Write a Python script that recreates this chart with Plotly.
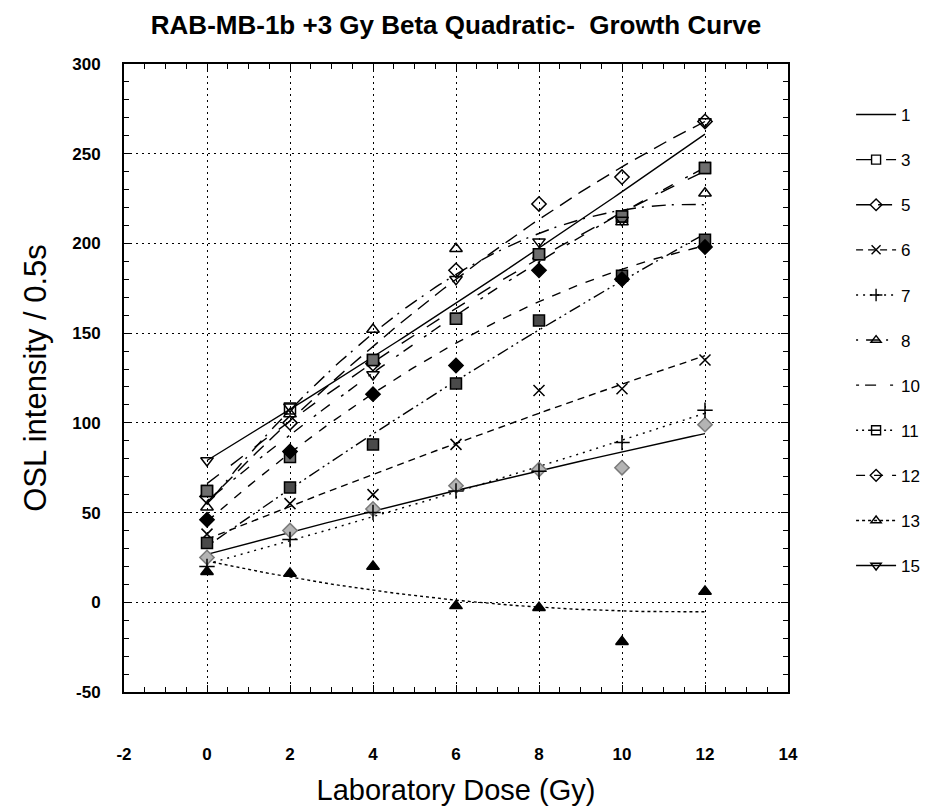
import numpy as np
import plotly.graph_objects as go

# ---------------- data ----------------
dose = [0, 2, 4, 6, 8, 10, 12]
series_names = ["1", "3", "5", "6", "7", "8", "10", "11", "12", "13", "15"]

s1 = [25, 40, 52, 65, 74, 75, 99]
s3 = [62, 108, 135, 158, 194, 215, 242]
s5 = [59, 100, 133, 185, 222, 237, 268]
s6 = [38, 55, 60, 88, 118, 119, 135]
s7 = [20, 35, 50, 62, 73, 89, 107]
s8 = [53, 105, 152, 197, 193, 212, 228]
s10 = [62, 81, 135, 158, 194, 215, 242]
s11 = [33, 64, 88, 122, 157, 182, 202]
s12 = [46, 84, 116, 132, 185, 180, 198]
s13 = [17, 16, 20, -2, -3, -22, 6]
s15 = [79, 109, 127, 180, 201, 213, 268]

values = [s1, s3, s5, s6, s7, s8, s10, s11, s12, s13, s15]

x_ticks = [-2, 0, 2, 4, 6, 8, 10, 12, 14]
y_ticks = [-50, 0, 50, 100, 150, 200, 250, 300]

# ---------------- styles ----------------
FONT = "Liberation Sans, Arial, sans-serif"
# sym: symbol in plot, color: marker colour (line colour for open symbols)
styles = {
    "1":  dict(dash="solid", sym="diamond", color="#b4b4b4", mline="#7a7a7a", leg=None),
    "3":  dict(dash="longdash", sym="square-open", color="black", mline="black", leg="square-open"),
    "5":  dict(dash="14px,8px", sym="diamond-open", color="black", mline="black", leg="diamond-open"),
    "6":  dict(dash="7px,5px", sym="x-thin-open", color="black", mline="black", leg="x-thin-open"),
    "7":  dict(dash="2px,5px", sym="cross-thin-open", color="black", mline="black", leg="cross-thin-open"),
    "8":  dict(dash="2px,8px,14px,6px", sym="triangle-up-open", color="black", mline="black", leg="triangle-up-open"),
    "10": dict(dash="3px,6px,11px,14px", sym="square", color="#6e6e6e", mline="black", leg=None),
    "11": dict(dash="2px,4px,2px,4px,12px,4px", sym="square", color="#4a4a4a", mline="black", leg="square-open"),
    "12": dict(dash="dash", sym="diamond", color="black", mline="black", leg="diamond-open"),
    "13": dict(dash="dot", sym="triangle-up", color="black", mline="black", leg="triangle-up-open"),
    "15": dict(dash="solid", sym="triangle-down-open", color="black", mline="black", leg="triangle-down-open"),
}

fig = go.Figure()

xfit = np.linspace(min(dose), max(dose), 121)

# quadratic growth-curve fits
for name, ys in zip(series_names, values):
    st = styles[name]
    coef = np.polyfit(dose, ys, 2)
    fig.add_trace(go.Scatter(
        x=xfit, y=np.polyval(coef, xfit), mode="lines",
        line=dict(color="black", width=1.4, dash=st["dash"]),
        legendgroup=name, showlegend=False, hoverinfo="skip"))

# data points
for name, ys in zip(series_names, values):
    st = styles[name]
    fig.add_trace(go.Scatter(
        x=dose, y=ys, mode="markers", name=name,
        marker=dict(symbol=st["sym"], size=11, color=st["color"],
                    line=dict(color=st["mline"], width=1.5)),
        legendgroup=name, showlegend=False))

# legend entries
for name in series_names:
    st = styles[name]
    if st["leg"] is None:
        fig.add_trace(go.Scatter(
            x=[None], y=[None], mode="lines", name=name,
            line=dict(color="black", width=1.4, dash=st["dash"]),
            legendgroup=name, showlegend=True))
    else:
        fig.add_trace(go.Scatter(
            x=[None], y=[None], mode="lines+markers", name=name,
            line=dict(color="black", width=1.4, dash=st["dash"]),
            marker=dict(symbol=st["leg"], size=9, color="black",
                        line=dict(color="black", width=1.4)),
            legendgroup=name, showlegend=True))

axis_common = dict(
    showline=True, linecolor="black", linewidth=1.8, mirror="allticks",
    ticks="inside", ticklen=7, tickwidth=1.2, tickcolor="black",
    showgrid=True, gridcolor="black", griddash="2px,4px", gridwidth=1.2,
    zeroline=False,
    tickfont=dict(family=FONT, size=17, color="black", weight="bold"),
)

fig.update_xaxes(
    range=[-2, 14], tickmode="array", tickvals=x_ticks, ticktext=[str(v) for v in x_ticks],
    minor=dict(dtick=0.5, tick0=0, ticks="inside", ticklen=5, tickcolor="black", showgrid=False),
    ticklabelstandoff=46,
    title=dict(text="Laboratory Dose (Gy)", font=dict(family=FONT, size=29, color="black"), standoff=16),
    **axis_common)

fig.update_yaxes(
    range=[-50, 300], tickmode="array", tickvals=y_ticks, ticktext=[str(v) for v in y_ticks],
    minor=dict(dtick=10, tick0=0, ticks="inside", ticklen=5, tickcolor="black", showgrid=False),
    ticklabelstandoff=18,
    title=dict(text="OSL intensity / 0.5s", font=dict(family=FONT, size=31, color="black"), standoff=16),
    **axis_common)

# the page adds an 8px body margin at the top-left
W, H = 927, 801
fig.update_layout(
    width=W, height=H,
    margin=dict(l=116, r=147, t=56, b=117, autoexpand=False),
    plot_bgcolor="white", paper_bgcolor="white",
    font=dict(family=FONT, color="black"),
    title=dict(text="RAB-MB-1b +3 Gy Beta Quadratic-\u00a0 Growth Curve",
               font=dict(family=FONT, size=26, color="black", weight="bold"),
               x=0.5, xref="paper", xanchor="center", y=1 - 17 / H, yref="container", yanchor="middle"),
    legend=dict(x=1.095, xanchor="left", y=1 - 33 / 628, yanchor="top",
                font=dict(family=FONT, size=17, color="black"),
                tracegroupgap=20, bgcolor="rgba(0,0,0,0)", itemwidth=40),
    showlegend=True,
)

fig.write_html("out.html")
